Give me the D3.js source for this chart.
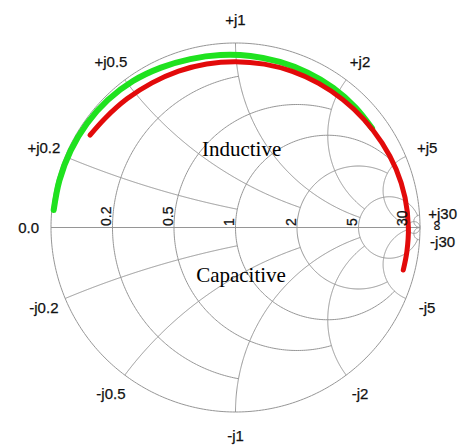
<!DOCTYPE html>
<html>
<head>
<meta charset="utf-8">
<script src="https://cdn.jsdelivr.net/npm/d3@7"></script>
<style>
	body { margin: 0; background: #fff; }
	text { font-family: "Liberation Sans", Arial, sans-serif; fill: #111; stroke: #111; stroke-width: 0.25px; }
	.serif { font-family: "Liberation Serif", "Times New Roman", serif; fill: #000; stroke: none; }
</style>
</head>
<body>
<div id="chart"></div>
<script>
// Grid circles (same values for resistance and reactance) and where each one stops
const gridValues = [0.2, 0.5, 1, 2, 5, 30];
const gridLimits = [1, 2, 5, 5, 30, Infinity];
const realLabels = ["0.2", "0.5", "1", "2", "5", "30"];
const upperLabels = ["+j0.2", "+j0.5", "+j1", "+j2", "+j5", "+j30"];
const lowerLabels = ["-j0.2", "-j0.5", "-j1", "-j2", "-j5", "-j30"];

// Traces as reflection coefficient (angle in degrees, magnitude)
const greenAngle = [174.5, 165, 155, 145, 135, 125, 115, 105, 95, 85, 75, 65, 55, 45, 36];
const greenMag = [0.990, 0.988, 0.986, 0.983, 0.978, 0.969, 0.956, 0.945, 0.938, 0.933, 0.929, 0.926, 0.924, 0.920, 0.915];
const redAngle = [147.6, 140, 130, 120, 110, 100, 90, 80, 70, 60, 50, 40, 30, 20, 10, 0, -8, -14.2];
const redMag = [0.934, 0.922, 0.912, 0.905, 0.902, 0.900, 0.899, 0.899, 0.900, 0.902, 0.905, 0.910, 0.917, 0.926, 0.933, 0.937, 0.938, 0.938];

const width = 460, height = 446;
const cx = 235.5, cy = 227.5, radius = 184.5;

const svg = d3.select("#chart").append("svg")
	.attr("width", width)
	.attr("height", height);

const x = d3.scaleLinear().domain([-1, 1]).range([cx - radius, cx + radius]);
const y = d3.scaleLinear().domain([-1, 1]).range([cy + radius, cy - radius]);

// z = r + jx  ->  gamma
function gamma(r, xv) {
	const d = (r + 1) * (r + 1) + xv * xv;
	return [(r * r + xv * xv - 1) / d, 2 * xv / d];
}

const line = d3.line().x(d => x(d[0])).y(d => y(d[1]));

function arcPoints(ccx, ccy, rad, a0, a1, n = 240) {
	return d3.range(n + 1).map(i => {
		const a = a0 + (a1 - a0) * i / n;
		return [ccx + rad * Math.cos(a), ccy + rad * Math.sin(a)];
	});
}

const grid = svg.append("g")
	.attr("fill", "none")
	.attr("stroke", "#969696")
	.attr("stroke-width", 1);

// outer circle and real axis
grid.append("path").attr("d", line(arcPoints(0, 0, 1, 0, 2 * Math.PI, 400)));
grid.append("path").attr("d", line([[-1, 0], [1, 0]]));

// resistance circles
gridValues.forEach((r, i) => {
	const c = r / (1 + r), rho = 1 / (1 + r);
	let a0 = 0;
	if (isFinite(gridLimits[i])) {
		const g = gamma(r, gridLimits[i]);
		a0 = Math.atan2(g[1], g[0] - c);
	}
	grid.append("path").attr("d", line(arcPoints(c, 0, rho, a0, 2 * Math.PI - a0)));
});

// reactance arcs
gridValues.forEach((v, i) => {
	[1, -1].forEach(s => {
		const ccy = 1 / (s * v), rad = 1 / v;
		const g0 = gamma(0, s * v);
		const g1 = isFinite(gridLimits[i]) ? gamma(gridLimits[i], s * v) : [1, 0];
		const a0 = Math.atan2(g0[1] - ccy, g0[0] - 1);
		let d = Math.atan2(g1[1] - ccy, g1[0] - 1) - a0;
		while (d > Math.PI) d -= 2 * Math.PI;
		while (d <= -Math.PI) d += 2 * Math.PI;
		grid.append("path").attr("d", line(arcPoints(1, ccy, rad, a0, a0 + d)));
	});
});

// traces
const polar = (ang, mag) => ang.map((a, i) => [mag[i] * Math.cos(a * Math.PI / 180), mag[i] * Math.sin(a * Math.PI / 180)]);
const trace = d3.line().x(d => x(d[0])).y(d => y(d[1])).curve(d3.curveCatmullRom);
svg.append("path")
	.attr("d", trace(polar(greenAngle, greenMag)))
	.attr("fill", "none")
	.attr("stroke", "#1fe21f")
	.attr("stroke-width", 6)
	.attr("stroke-linecap", "round");
svg.append("path")
	.attr("d", trace(polar(redAngle, redMag)))
	.attr("fill", "none")
	.attr("stroke", "#e20a0a")
	.attr("stroke-width", 5)
	.attr("stroke-linecap", "round");

// labels on the real axis
svg.selectAll(".rlab")
	.data(gridValues)
	.join("text")
	.attr("class", "rlab")
	.attr("transform", (r, i) => "translate(" + (x((r - 1) / (r + 1)) - 1.5) + "," + (y(0) - 1.5) + ") rotate(-90)")
	.attr("font-size", "14px")
	.text((r, i) => realLabels[i]);

svg.append("text")
	.attr("x", x(-1) - 12)
	.attr("y", y(0) + 5)
	.attr("text-anchor", "end")
	.attr("font-size", "15px")
	.text("0.0");

svg.append("text")
	.attr("transform", "translate(" + x(1.115) + "," + y(0.01) + ") rotate(-90)")
	.attr("text-anchor", "middle")
	.attr("font-size", "14px")
	.text("\u221e");

// reactance labels around the rim
const rim = 1.125;
[[upperLabels, 1], [lowerLabels, -1]].forEach(([labels, s]) => {
	svg.selectAll(null)
		.data(gridValues)
		.join("text")
		.attr("x", v => x(gamma(0, s * v)[0] * rim))
		.attr("y", v => y(gamma(0, s * v)[1] * rim))
		.attr("text-anchor", "middle")
		.attr("dominant-baseline", "central")
		.attr("font-size", "15px")
		.text((v, i) => labels[i]);
});

svg.append("text")
	.attr("class", "serif")
	.attr("x", x(0.033))
	.attr("y", y(0.387))
	.attr("text-anchor", "middle")
	.attr("font-size", "21px")
	.text("Inductive");

svg.append("text")
	.attr("class", "serif")
	.attr("x", x(0.03))
	.attr("y", y(-0.295))
	.attr("text-anchor", "middle")
	.attr("font-size", "21px")
	.text("Capacitive");
</script>
</body>
</html>
